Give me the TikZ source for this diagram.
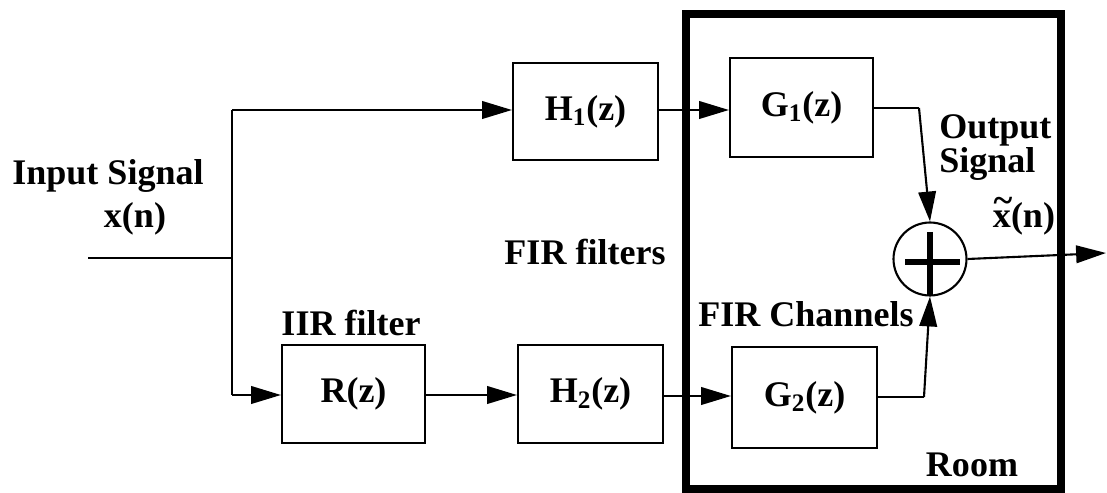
\documentclass[tikz,border=0pt]{standalone}
\usepackage{fontspec}
\setmainfont{Liberation Serif}
\usetikzlibrary{arrows.meta}
\newcommand{\tildex}{\makebox[0pt][l]{\raisebox{0.42em}{\hspace{0.02em}\textasciitilde}}x}
\begin{document}
\begin{tikzpicture}[x=0.02cm,y=-0.02cm,
  every node/.style={font=\bfseries\fontsize{20.5}{22}\selectfont},
  blk/.style={draw,line width=1.2pt,inner sep=0pt},
  wire/.style={line width=1.2pt},
  flow/.style={wire,-{Triangle[length=17pt,width=10pt]}},
  lbl/.style={inner sep=0pt}]
\useasboundingbox (0,0) rectangle (1107,493);

% the room enclosing the acoustic channels
\draw[line width=4.6pt] (686,14) rectangle (1061,489);

% filter blocks
\node[blk,minimum width=2.9cm,minimum height=1.94cm] (H1) at (585.5,111.5) {H\textsubscript{1}(z)};
\node[blk,minimum width=2.86cm,minimum height=1.98cm] (G1) at (801.5,107.5) {G\textsubscript{1}(z)};
\node[blk,minimum width=2.86cm,minimum height=1.96cm] (R)  at (353.5,394) {R(z)};
\node[blk,minimum width=2.9cm,minimum height=1.96cm] (H2) at (590.5,394) {H\textsubscript{2}(z)};
\node[blk,minimum width=2.9cm,minimum height=2.02cm] (G2) at (804.5,397.5) {G\textsubscript{2}(z)};

% summing junction
\node[draw,circle,line width=1.2pt,minimum size=1.46cm,inner sep=0pt] (S) at (930,259) {};
\draw[line width=3.6pt] (905,262) -- (960,262);
\draw[line width=3.6pt] (930,232) -- (930,296);

% input fan-out
\coordinate (in) at (88,258);
\coordinate (split) at (232,258);
\coordinate (top) at (232,110);
\coordinate (bot) at (232,395);
\draw[wire] (in) -- (split);
\draw[wire] (top) -- (bot);
\draw[flow] (top) -- (H1.west |- top);
\draw[flow] (bot) -- (R.west |- bot);

% forward paths
\draw[flow] (H1.east |- 0,110) -- (G1.west |- 0,110);
\draw[flow] (R.east |- 0,395) -- (H2.west |- 0,395);
\draw[flow] (H2.east |- 0,396) -- (G2.west |- 0,396);

% channels into the sum
\coordinate (g1t) at (919,108);
\coordinate (g2t) at (924,397);
\draw[wire] (G1.east |- g1t) -- (g1t);
\draw[flow] (g1t) -- (S.north);
\draw[wire] (G2.east |- g2t) -- (g2t);
\draw[flow] (g2t) -- (S.south);

% output
\coordinate (out) at (1106,253);
\draw[flow] (S.east) -- (out);

% labels
\node[lbl] (inlbl) at (108,176) {Input Signal};
\node[lbl] (xn) at (135,219) {x(n)};
\node[lbl] (firf) at (585,252) {FIR filters};
\node[lbl] (iir) at (351,323) {IIR filter};
\node[lbl] (firc) at (806,314) {FIR Channels};
\node[lbl,anchor=base west] (outlbl1) at (939,139) {Output};
\node[lbl,anchor=base west] (outlbl2) at (939,173) {Signal};
\node[lbl,anchor=base] (xt) at (1024,228) {\tildex(n)};
\node[lbl] (room) at (972,465) {Room};
\end{tikzpicture}
\end{document}
